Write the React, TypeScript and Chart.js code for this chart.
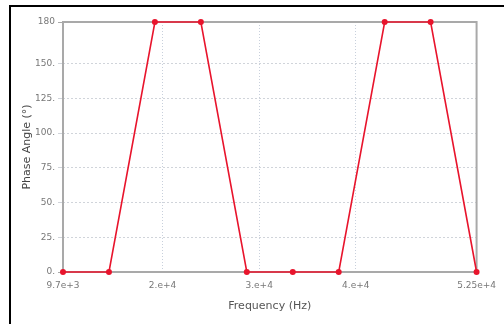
import React, { useEffect, useRef } from "react";
import { Chart, registerables } from "chart.js";

Chart.register(...registerables);

const frequencies = [9700, 14456, 19211, 23967, 28722, 33478, 38233, 42989, 47744, 52500];
const phaseAngles = [0, 0, 180, 180, 0, 0, 0, 180, 180, 0];
const xTickValues = [9700, 20000, 30000, 40000, 52500];
const xTickLabels = ["9.7e+3", "2.e+4", "3.e+4", "4.e+4", "5.25e+4"];
const yTickValues = [0, 25, 50, 75, 100, 125, 150, 180];
const yTickLabels = ["0.", "25.", "50.", "75.", "100.", "125.", "150.", "180"];

const FONT = "'DejaVu Sans', Verdana, sans-serif";

const frameBorder = {
  id: "frameBorder",
  beforeDatasetsDraw(chart: any) {
    const { ctx, chartArea } = chart;
    ctx.save();
    ctx.strokeStyle = "#a9a9a9";
    ctx.lineWidth = 2;
    ctx.strokeRect(chartArea.left, chartArea.top, chartArea.right - chartArea.left, chartArea.bottom - chartArea.top);
    ctx.restore();
  },
};

export default function App() {
  const ref = useRef<HTMLCanvasElement>(null);
  useEffect(() => {
    if (!ref.current) return;
    const chart = new Chart(ref.current, {
      type: "line",
      data: {
        datasets: [
          {
            data: frequencies.map((f, i) => ({ x: f, y: phaseAngles[i] })),
            borderColor: "#e8142c",
            backgroundColor: "#e8142c",
            borderWidth: 1.6,
            pointRadius: 3,
            pointBorderWidth: 0,
            tension: 0,
            clip: false,
          } as any,
        ],
      },
      options: {
        animation: false,
        responsive: false,
        devicePixelRatio: 1,
        layout: { padding: { left: 0, top: 22, right: 27, bottom: 0 } },
        plugins: { legend: { display: false }, tooltip: { enabled: false } },
        scales: {
          x: {
            type: "linear",
            min: 9700,
            max: 52500,
            afterBuildTicks: (s: any) => {
              s.ticks = xTickValues.map((v) => ({ value: v }));
            },
            afterFit: (s: any) => {
              s.height = 52;
            },
            ticks: {
              autoSkip: false,
              maxRotation: 0,
              padding: 8,
              color: "#777",
              font: { family: FONT, size: 9 },
              callback: (v: any) => {
                const i = xTickValues.indexOf(Number(v));
                return i >= 0 ? xTickLabels[i] : "";
              },
            },
            grid: {
              drawTicks: false,
              tickLength: 0,
              lineWidth: 1,
              color: (c: any) => (c.tick && (c.tick.value === 9700 || c.tick.value === 52500) ? "rgba(0,0,0,0)" : "#c8d0dc"),
            },
            border: { display: false, dash: [1, 2] },
            title: {
              display: true,
              text: "Frequency (Hz)",
              color: "#555",
              font: { family: FONT, size: 11 },
              padding: { top: 4, bottom: 11 },
            },
          },
          y: {
            type: "linear",
            min: 0,
            max: 180,
            afterBuildTicks: (s: any) => {
              s.ticks = yTickValues.map((v) => ({ value: v }));
            },
            afterFit: (s: any) => {
              s.width = 63;
            },
            ticks: {
              autoSkip: false,
              padding: 3,
              color: "#777",
              font: { family: FONT, size: 9 },
              callback: (v: any) => {
                const i = yTickValues.indexOf(Number(v));
                return i >= 0 ? yTickLabels[i] : "";
              },
            },
            grid: {
              drawTicks: true,
              tickLength: 5,
              lineWidth: 1,
              color: (c: any) => (c.tick && (c.tick.value === 0 || c.tick.value === 180) ? "#a9a9a9" : "#d0d4da"),
            },
            border: { display: false, dash: [2, 2] },
            title: {
              display: true,
              text: "Phase Angle (°)",
              color: "#444",
              font: { family: FONT, size: 11 },
              padding: { top: 21, bottom: 0 },
            },
          },
        },
      },
      plugins: [frameBorder],
    } as any);
    return () => chart.destroy();
  }, []);

  return (
    <div style={{ position: "fixed", left: 0, top: 0, width: 504, height: 324, background: "#fff", overflow: "hidden" }}>
      <div
        style={{
          position: "absolute",
          left: 9,
          top: 5,
          width: 600,
          height: 400,
          border: "2px solid #000",
        }}
      />
      <canvas ref={ref} width={504} height={324} style={{ position: "absolute", left: 0, top: 0, width: 504, height: 324 }} />
    </div>
  );
}
